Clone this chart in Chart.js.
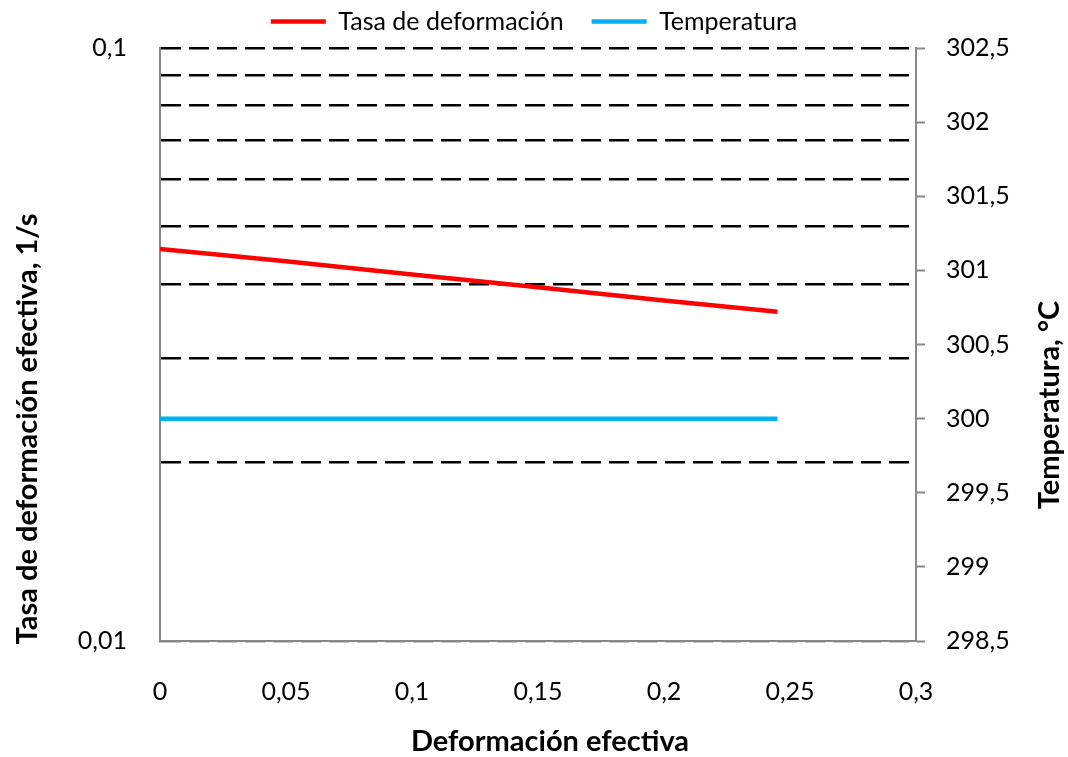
<!DOCTYPE html>
<html>
<head>
<meta charset="utf-8">
<script src="https://cdn.jsdelivr.net/npm/chart.js@4"></script>
<style>
  body { margin: 0; background: #fff; }
  canvas { display: block; }
</style>
</head>
<body>
<canvas id="chart1" width="1068" height="757"></canvas>
<script>
// data
const deformacion = [0, 0.05, 0.1, 0.15, 0.2, 0.245];
const tasaDeformacion = [0.0458, 0.0437, 0.0415, 0.0395, 0.0375, 0.0359];
const temperatura = [300, 300, 300, 300, 300, 300];

// left log axis: grid at every minor step, labels only on the decades
const logTicks = [0.01, 0.02, 0.03, 0.04, 0.05, 0.06, 0.07, 0.08, 0.09, 0.1];
const logLabels = [0.01, 0.1];

const xTitle = 'Deformación efectiva';
const yTitle = 'Tasa de deformación efectiva, 1/s';
const y1Title = 'Temperatura, °C';

const FONT = 'Lato';

function comma(v) {
    return parseFloat(v.toFixed(3)).toString().replace('.', ',');
}

// axis titles drawn by hand, Excel puts them off-centre
const titlesPlugin = {
    id: 'titles',
    afterDraw(chart) {
        const ctx = chart.ctx;
        const put = (text, x, y, rot) => {
            ctx.save();
            ctx.fillStyle = '#000';
            ctx.font = 'bold 29px ' + FONT;
            ctx.textAlign = 'center';
            ctx.textBaseline = 'middle';
            ctx.translate(x, y);
            ctx.rotate(rot);
            ctx.fillText(text, 0, 0);
            ctx.restore();
        };
        put(xTitle, 550, 742, 0);
        put(yTitle, 28, 429, -Math.PI / 2);
        put(y1Title, 1050, 405, -Math.PI / 2);
    }
};

// legend keeps its side padding but takes less room on top
const legendSpace = {
    id: 'legendSpace',
    afterInit(chart) {
        const lg = chart.legend;
        const fit = lg.fit.bind(lg);
        lg.fit = function () {
            fit();
            this.height = 67;
        };
    }
};

const ctx = document.getElementById('chart1').getContext('2d');

new Chart(ctx, {
    type: 'line',
    data: {
        datasets: [{
            label: 'Tasa de deformación',
            data: deformacion.map((x, i) => ({ x: x, y: tasaDeformacion[i] })),
            borderColor: '#ff0000',
            backgroundColor: '#ff0000',
            borderWidth: 4.5,
            pointRadius: 0,
            yAxisID: 'y'
        }, {
            label: 'Temperatura',
            data: deformacion.map((x, i) => ({ x: x, y: temperatura[i] })),
            borderColor: '#00b0f0',
            backgroundColor: '#00b0f0',
            borderWidth: 4.5,
            pointRadius: 0,
            yAxisID: 'y1'
        }]
    },
    options: {
        responsive: false,
        animation: false,
        layout: { padding: { top: -19, left: 0, right: 0, bottom: 0 } },
        plugins: {
            legend: {
                position: 'top',
                labels: {
                    font: { family: FONT, size: 25 },
                    color: '#000',
                    usePointStyle: true,
                    pointStyle: 'line',
                    pointStyleWidth: 55,
                    padding: 28
                }
            },
            tooltip: { enabled: false }
        },
        scales: {
            x: {
                type: 'linear',
                min: 0,
                max: 0.3,
                afterFit: s => { s.height = 116; },
                grid: { display: false, drawTicks: false },
                border: { display: true, color: '#888', width: 2 },
                ticks: {
                    stepSize: 0.05,
                    padding: 36,
                    maxRotation: 0,
                    color: '#000',
                    font: { family: FONT, size: 25 },
                    callback: v => comma(v)
                }
            },
            y: {
                type: 'logarithmic',
                position: 'left',
                min: 0.01,
                max: 0.1,
                afterFit: s => { s.width = 160; },
                afterBuildTicks: s => { s.ticks = logTicks.map(v => ({ value: v })); },
                grid: {
                    color: c => (c.tick && c.tick.value === 0.01) ? '#888' : '#000',
                    lineWidth: 2.5,
                    drawTicks: false
                },
                border: { display: true, color: '#888', width: 2, dash: [20, 8] },
                ticks: {
                    padding: 33,
                    color: '#000',
                    font: { family: FONT, size: 25 },
                    callback: v => logLabels.includes(v) ? comma(v) : ''
                }
            },
            y1: {
                type: 'linear',
                position: 'right',
                min: 298.5,
                max: 302.5,
                afterFit: s => { s.width = 152; },
                grid: {
                    drawOnChartArea: false,
                    drawTicks: true,
                    tickLength: 9,
                    tickColor: '#888',
                    tickWidth: 2
                },
                border: { display: true, color: '#888', width: 2 },
                ticks: {
                    stepSize: 0.5,
                    padding: 21,
                    color: '#000',
                    font: { family: FONT, size: 25 },
                    callback: v => comma(v)
                }
            }
        }
    },
    plugins: [titlesPlugin, legendSpace]
});
</script>
</body>
</html>
